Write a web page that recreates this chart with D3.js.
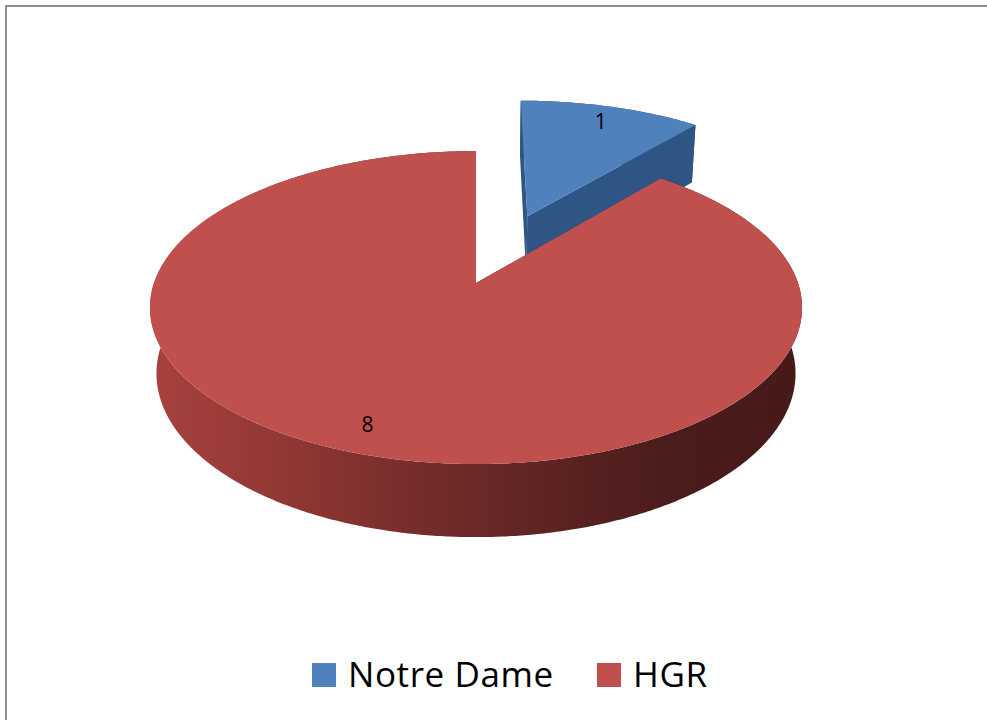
<!DOCTYPE html>
<html>
<head>
<meta charset="utf-8">
<script src="https://cdn.jsdelivr.net/npm/d3@7"></script>
<style>
  html, body { margin: 0; padding: 0; background: #ffffff; }
  svg { display: block; }
</style>
</head>
<body>
<svg id="chart" width="987" height="720"></svg>
<script>
// Series
const categories = ["Notre Dame", "HGR"];
const values = [1, 8];

// Styling per category
const topColors = ["#4f81bd", "#c0504d"];
const cutFaceColors = ["#2f5584", "#7a2e2c"];
const explode = [0.5, 0];

// Rim shading, left to right across the disc
const rimStops = [
  ["#2a4a74", "#2a4a74"],
  ["#a8423f", "#923835", "#772d2c", "#5e2423", "#4a1c1b", "#461a19"]
];

// Label anchors on the disc: angle shift from slice middle (deg) and radius
const labelAnchors = [{ shift: 0, r: 0.86 }, { shift: 0, r: 0.86 }];

const svg = d3.select("#chart");
const W = 987, H = 720;

// Outer frame
svg.append("rect")
  .attr("x", 6).attr("y", 6)
  .attr("width", W + 10).attr("height", H + 10)
  .attr("fill", "none")
  .attr("stroke", "#8e8e8e")
  .attr("stroke-width", 2);

// Perspective projection of a unit disc (top face at z = 0, z up)
const view = {
  cx: 476, cy: 283, S: 322, f: 5.61,
  tilt: 28.3 * Math.PI / 180,
  thick: 0.235
};
function project(X, Y, z) {
  const sa = Math.sin(view.tilt), ca = Math.cos(view.tilt);
  const yv = Y * sa + z * ca;
  const d = Y * ca - z * sa;
  const s = view.f / (view.f + d);
  return [view.cx + view.S * X * s, view.cy - view.S * yv * s];
}

// Horizontal shading for the rim of each slice
const defs = svg.append("defs");
rimStops.forEach((stops, i) => {
  const x0 = view.cx - view.S * 1.02, x1 = view.cx + view.S * 1.02;
  const grad = defs.append("linearGradient")
    .attr("id", "rim" + i)
    .attr("gradientUnits", "userSpaceOnUse")
    .attr("x1", x0).attr("x2", x1).attr("y1", 0).attr("y2", 0);
  const pos = d3.scaleLinear().domain([0, stops.length - 1]).range([0, 100]);
  grad.selectAll("stop").data(stops).join("stop")
    .attr("offset", (c, k) => pos(k) + "%")
    .attr("stop-color", c => c);
});

const pie = d3.pie().sort(null).value(d => d);
const arcs = pie(values);
const line = d3.line();
const STEP = Math.PI / 360;

function drawSlice(g, a, i) {
  const mid = (a.startAngle + a.endAngle) / 2;
  const ox = explode[i] * Math.sin(mid), oy = explode[i] * Math.cos(mid);
  const t = -view.thick;
  const rim = (th, z) => project(ox + Math.sin(th), oy + Math.cos(th), z);
  const angles = d3.range(a.startAngle, a.endAngle, STEP).concat([a.endAngle]);

  // Outer rim band (hidden parts end up under the top face)
  const band = angles.map(th => rim(th, 0)).concat(angles.slice().reverse().map(th => rim(th, t)));
  g.append("path")
    .attr("d", line(band) + "Z")
    .attr("fill", `url(#rim${i})`);

  // Radial cut faces
  const apexTop = project(ox, oy, 0), apexBot = project(ox, oy, t);
  [a.startAngle, a.endAngle].forEach(th => {
    g.append("path")
      .attr("d", line([apexTop, rim(th, 0), rim(th, t), apexBot]) + "Z")
      .attr("fill", cutFaceColors[i]);
  });

  // Top face
  g.append("path")
    .attr("d", line([apexTop].concat(angles.map(th => rim(th, 0)))) + "Z")
    .attr("fill", topColors[i]);
}

const pieG = svg.append("g");
// The small wedge sits behind, so it is painted first
arcs.forEach((a, i) => drawSlice(pieG.append("g"), a, i));

// Value labels
const labelG = svg.append("g");
arcs.forEach((a, i) => {
  const mid = (a.startAngle + a.endAngle) / 2;
  const ox = explode[i] * Math.sin(mid), oy = explode[i] * Math.cos(mid);
  const th = mid + labelAnchors[i].shift * Math.PI / 180;
  const r = labelAnchors[i].r;
  const p = project(ox + r * Math.sin(th), oy + r * Math.cos(th), 0);
  labelG.append("text")
    .attr("x", p[0]).attr("y", p[1])
    .attr("text-anchor", "middle")
    .attr("dominant-baseline", "central")
    .attr("font-family", "'Open Sans', 'Liberation Sans', sans-serif")
    .attr("font-size", 21)
    .attr("fill", "#000")
    .text(a.data);
});

// Legend
const legendX = [312, 597];
const legend = svg.append("g");
categories.forEach((c, i) => {
  legend.append("rect")
    .attr("x", legendX[i]).attr("y", 663)
    .attr("width", 24).attr("height", 24)
    .attr("fill", topColors[i]);
  legend.append("text")
    .attr("x", legendX[i] + 36).attr("y", 687)
    .attr("font-family", "'Open Sans', 'Liberation Sans', sans-serif")
    .attr("font-size", 35)
    .attr("letter-spacing", 0.6)
    .attr("fill", "#000")
    .text(c);
});
</script>
</body>
</html>
